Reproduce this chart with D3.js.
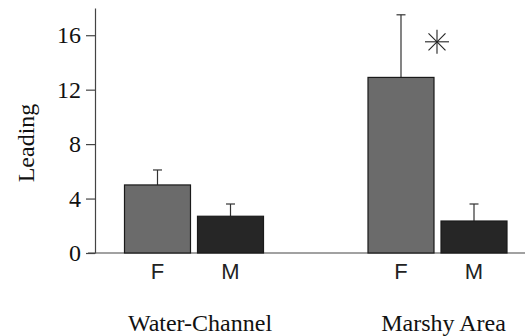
<!DOCTYPE html>
<html><head><meta charset="utf-8">
<script src="https://cdn.jsdelivr.net/npm/d3@7"></script>
<style>body{margin:0;background:#fff}svg{display:block}</style>
</head><body>
<svg id="c" width="525" height="336"></svg>
<script>
const groups = ["Water-Channel", "Marshy Area"];
const sexes = ["F", "M"];
const means = [[5.0, 2.7], [12.9, 2.35]];
const errors = [[1.1, 0.9], [4.6, 1.25]];
const yTicks = [0, 4, 8, 12, 16];
const colors = {F: "#6b6b6b", M: "#262626"};

const svg = d3.select("#c");
const y = d3.scaleLinear().domain([0, 18]).range([253, 8]);
const gx = d3.scalePoint().domain(groups).range([194, 437.5]);
const sx = d3.scaleBand().domain(sexes).range([-69.5, 69.5]).paddingInner(0.096);
const axisX = 95;

// baseline
svg.append("line").attr("x1", 88).attr("x2", 525).attr("y1", y(0)).attr("y2", y(0))
  .attr("stroke", "#444").attr("stroke-width", 1.2);

const data = [];
groups.forEach((g, i) => sexes.forEach((s, j) => data.push({g, s, v: means[i][j], e: errors[i][j]})));

const bars = svg.append("g");
bars.selectAll("line.err").data(data).join("line")
  .attr("x1", d => gx(d.g) + sx(d.s) + sx.bandwidth() / 2)
  .attr("x2", d => gx(d.g) + sx(d.s) + sx.bandwidth() / 2)
  .attr("y1", d => y(d.v)).attr("y2", d => y(d.v + d.e))
  .attr("stroke", "#333").attr("stroke-width", 1.2);
bars.selectAll("line.cap").data(data).join("line")
  .attr("x1", d => gx(d.g) + sx(d.s) + sx.bandwidth() / 2 - 4.5)
  .attr("x2", d => gx(d.g) + sx(d.s) + sx.bandwidth() / 2 + 4.5)
  .attr("y1", d => y(d.v + d.e)).attr("y2", d => y(d.v + d.e))
  .attr("stroke", "#333").attr("stroke-width", 1.2);
bars.selectAll("rect").data(data).join("rect")
  .attr("x", d => gx(d.g) + sx(d.s))
  .attr("width", sx.bandwidth())
  .attr("y", d => y(d.v))
  .attr("height", d => y(0) - y(d.v))
  .attr("fill", d => colors[d.s])
  .attr("stroke", "#1a1a1a").attr("stroke-width", 1.2);

// y axis
const ax = svg.append("g").attr("transform", `translate(${axisX},0)`)
  .call(d3.axisLeft(y).tickValues(yTicks).tickSize(9).tickPadding(5).tickSizeOuter(0));
ax.select(".domain").attr("stroke", "#444").attr("stroke-width", 1.2);
ax.selectAll(".tick line").attr("stroke", "#444").attr("stroke-width", 1.2);
ax.selectAll(".tick text").attr("font-family", "Liberation Serif").attr("font-size", 24).attr("fill", "#111");

// sex labels
svg.append("g").selectAll("text").data(data).join("text")
  .attr("x", d => gx(d.g) + sx(d.s) + sx.bandwidth() / 2)
  .attr("y", 279).attr("text-anchor", "middle")
  .attr("font-family", "Liberation Sans").attr("font-size", 22).attr("fill", "#222")
  .text(d => d.s);

// group labels
svg.append("g").selectAll("text").data(groups).join("text")
  .attr("x", d => gx(d) + 6).attr("y", 331).attr("text-anchor", "middle")
  .attr("font-family", "Liberation Serif").attr("font-size", 24).attr("fill", "#111")
  .text(d => d);

// y label
svg.append("text").attr("transform", "translate(34,143) rotate(-90)")
  .attr("text-anchor", "middle").attr("font-family", "Liberation Serif")
  .attr("font-size", 24).attr("fill", "#111").text("Leading");

// significance asterisk
const ma = data.find(d => d.g === "Marshy Area" && d.s === "F");
const ax0 = gx(ma.g) + sx(ma.s) + sx.bandwidth() + 3, ay0 = y(ma.v + ma.e) + 27, r = 12;
const star = svg.append("g").attr("transform", `translate(${ax0},${ay0})`).attr("stroke", "#222").attr("stroke-width", 1.1);
[0, 45, 90, 135].forEach(a => {
  const t = a * Math.PI / 180;
  star.append("line").attr("x1", -r * Math.cos(t)).attr("y1", -r * Math.sin(t))
    .attr("x2", r * Math.cos(t)).attr("y2", r * Math.sin(t));
});
</script>
</body></html>
